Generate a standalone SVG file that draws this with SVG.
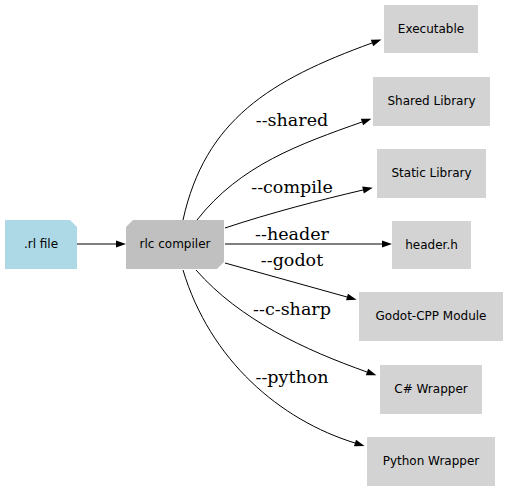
<svg xmlns="http://www.w3.org/2000/svg" width="508" height="491" viewBox="0 0 508 491">
<style>
.lbl{font-family:"DejaVu Sans","Liberation Sans",sans-serif;font-size:12px;fill:#000;text-anchor:middle}
.elbl{font-family:"DejaVu Serif","Liberation Serif",serif;font-size:17.5px;fill:#000;text-anchor:middle}
.tgt{fill:#d3d3d3}
.edge{fill:none;stroke:#000;stroke-width:1;marker-end:url(#arr)}
</style>
<defs>
<marker id="arr" markerUnits="userSpaceOnUse" markerWidth="10" markerHeight="7" refX="0" refY="3.5" orient="auto" overflow="visible">
<path d="M0,0 L10,3.5 L0,7 z" fill="#000"/>
</marker>
</defs>
<rect width="508" height="491" fill="#fff"/>
<g id="connectors">
<path class="edge" d="M77,244 L116,244"/>
<path class="edge" d="M183,220 C205,120 270,80 372,43"/>
<path class="edge" d="M197,220 C240,165 300,144 362,122"/>
<path class="edge" d="M225,228 C270,213 320,200 363,190"/>
<path class="edge" d="M225,244 L382,244"/>
<path class="edge" d="M225,263 L347,297"/>
<path class="edge" d="M196,270 C240,320 305,350 367,372"/>
<path class="edge" d="M183,270 C210,360 280,420 355,443"/>
<text class="elbl" x="292" y="126">--shared</text>
<text class="elbl" x="292" y="193">--compile</text>
<text class="elbl" x="292" y="240">--header</text>
<text class="elbl" x="292" y="266">--godot</text>
<text class="elbl" x="292" y="315">--c-sharp</text>
<text class="elbl" x="292" y="383">--python</text>
</g>
<g id="rlfile">
<polygon points="5,220 70,220 77,227 77,269 5,269" fill="#add8e6"/>
<text class="lbl" x="41" y="248">.rl file</text>
</g>
<g id="rlc">
<polygon points="133,220 224,220 224,262 217,269 126,269 126,227" fill="#c0c0c0"/>
<text class="lbl" x="175" y="248">rlc compiler</text>
</g>
<g id="executable">
<rect class="tgt" x="384" y="5" width="94" height="48"/>
<text class="lbl" x="431" y="33">Executable</text>
</g>
<g id="shared">
<rect class="tgt" x="373" y="77" width="117" height="49"/>
<text class="lbl" x="431.5" y="105">Shared Library</text>
</g>
<g id="static">
<rect class="tgt" x="377" y="149" width="109" height="49"/>
<text class="lbl" x="431.5" y="177">Static Library</text>
</g>
<g id="header">
<rect class="tgt" x="392" y="221" width="79" height="48"/>
<text class="lbl" x="431.5" y="249">header.h</text>
</g>
<g id="godot">
<rect class="tgt" x="359" y="292" width="144" height="49"/>
<text class="lbl" x="431" y="320">Godot-CPP Module</text>
</g>
<g id="csharp">
<rect class="tgt" x="380" y="365" width="102" height="49"/>
<text class="lbl" x="431" y="393">C# Wrapper</text>
</g>
<g id="python">
<rect class="tgt" x="367" y="437" width="128" height="49"/>
<text class="lbl" x="431" y="465">Python Wrapper</text>
</g>
</svg>
